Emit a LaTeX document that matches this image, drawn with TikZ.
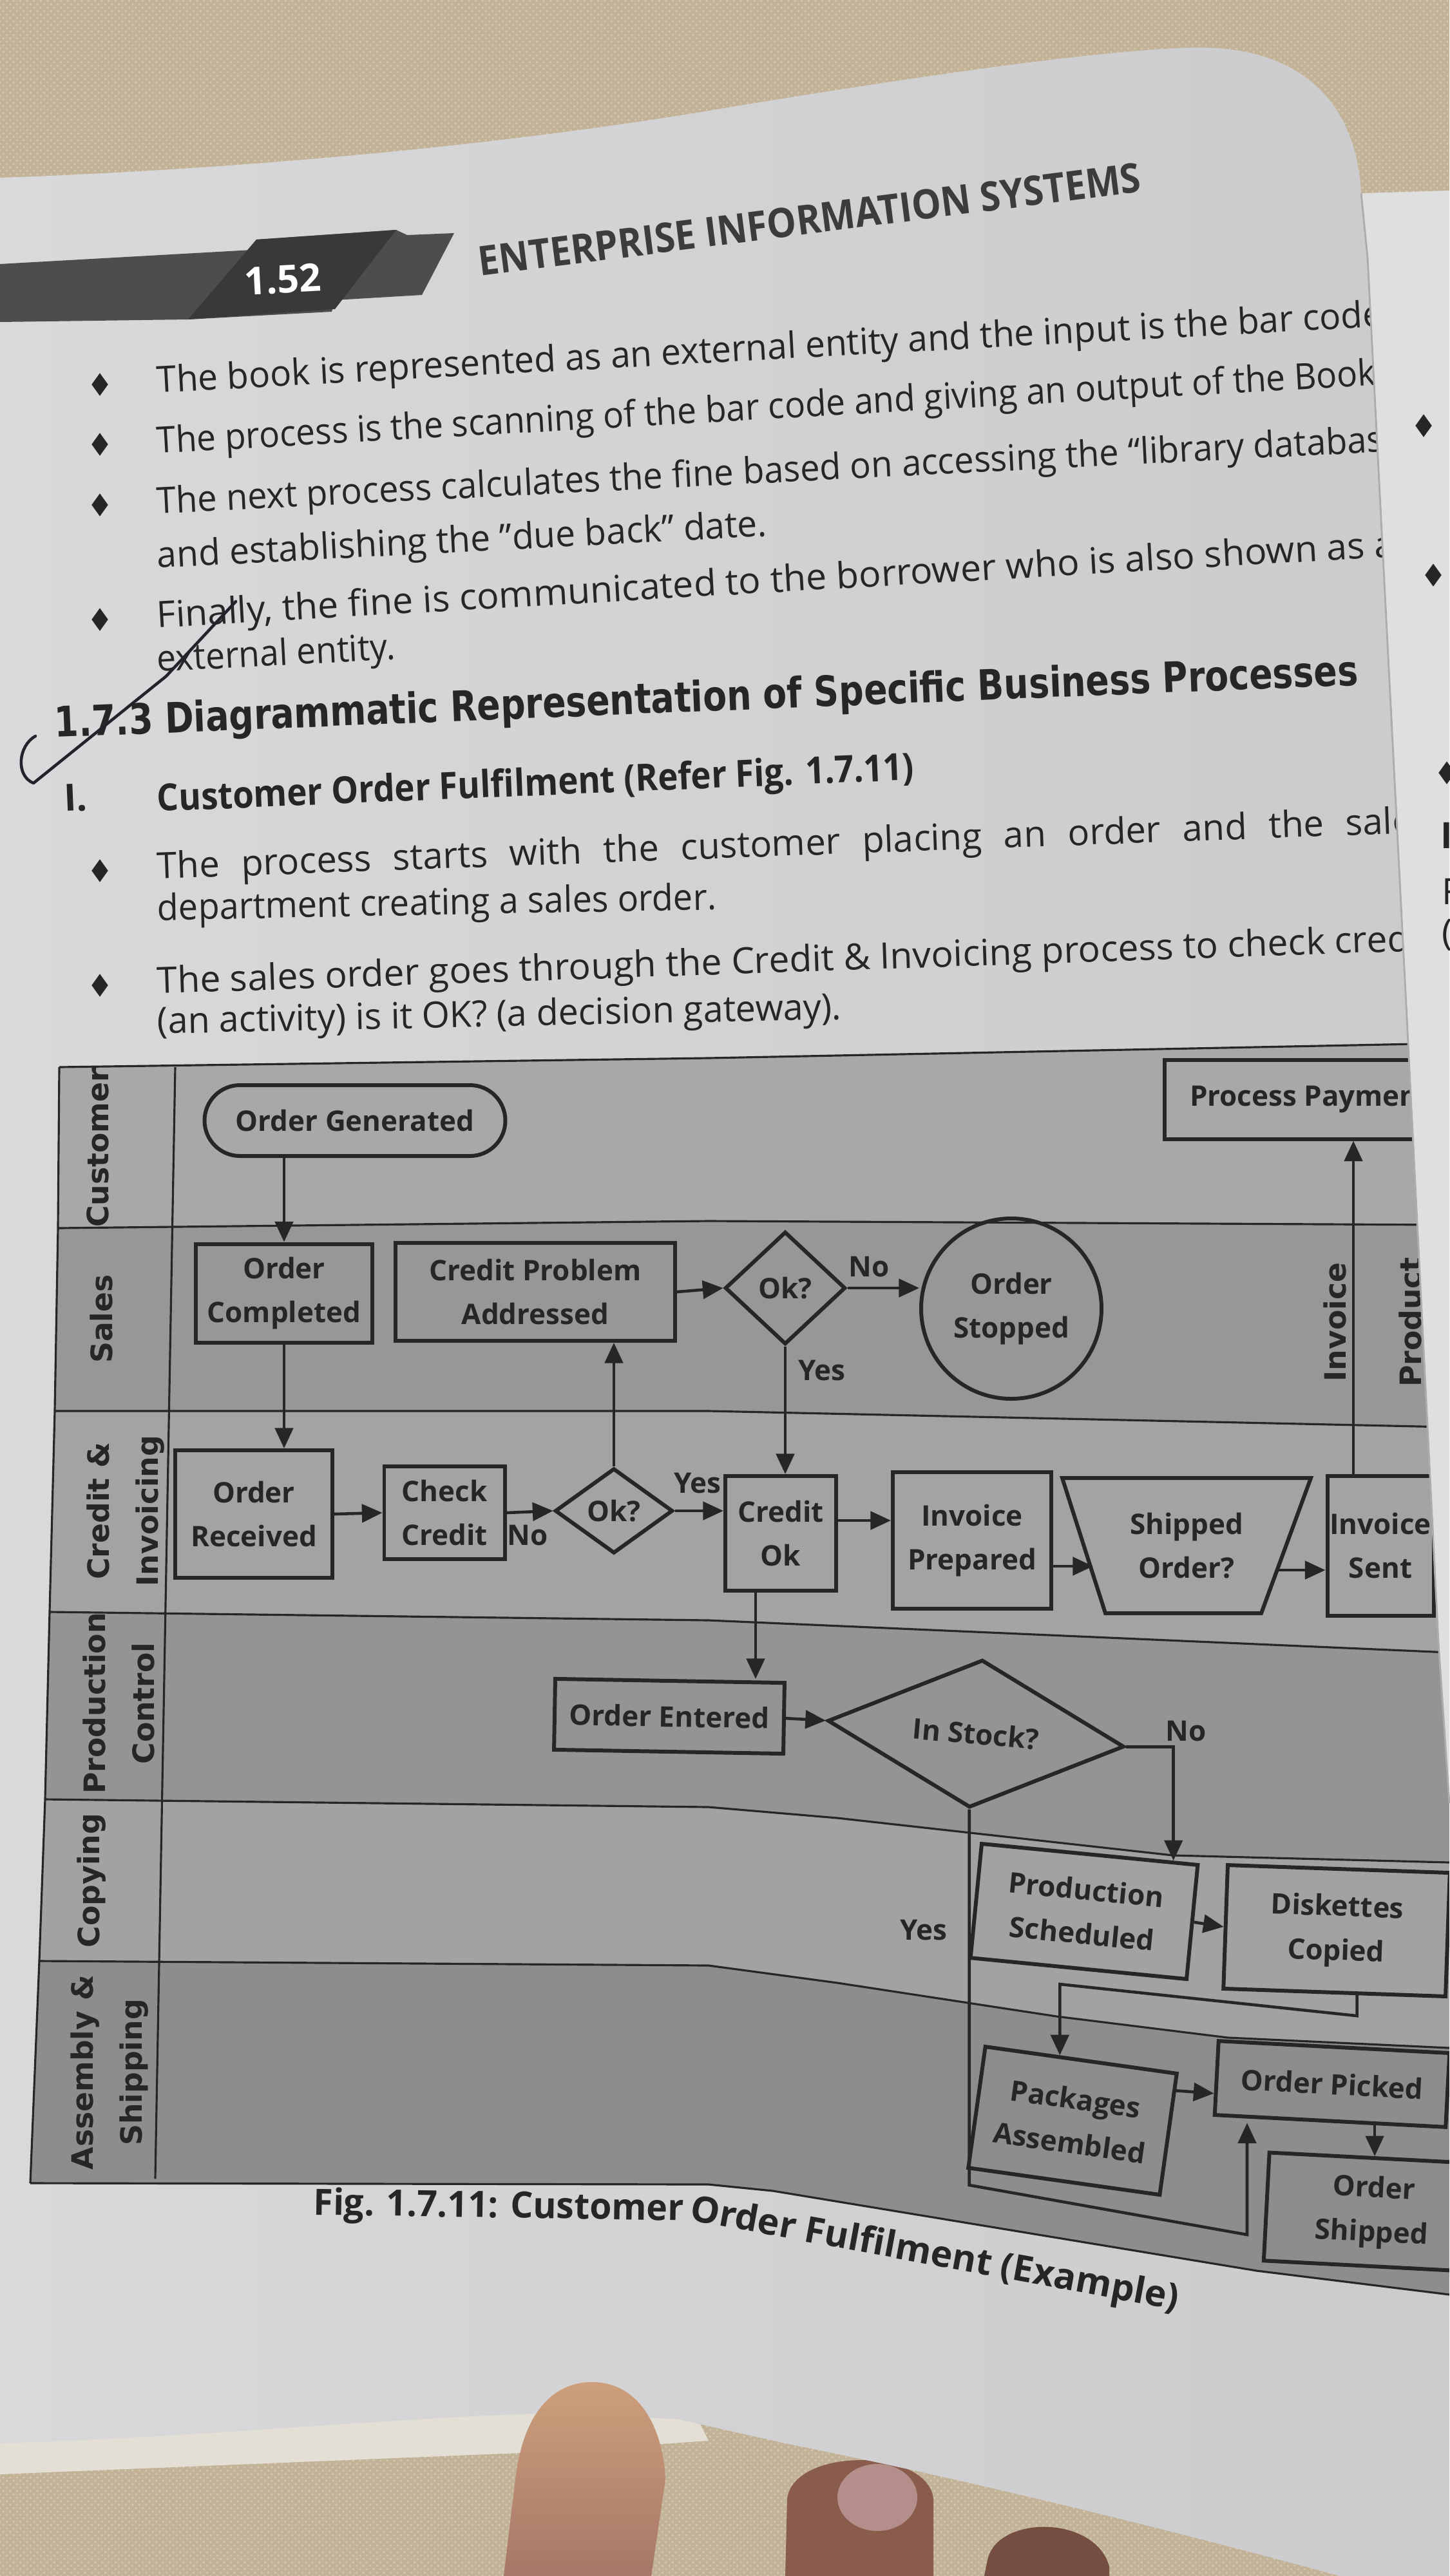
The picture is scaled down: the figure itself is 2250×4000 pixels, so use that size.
\documentclass[tikz,border=0pt]{standalone}
\usepackage{fontspec}
\setmainfont{Open Sans}
\newfontfamily\dvs{DejaVu Sans}
\usepackage{graphicx}
\usetikzlibrary{shapes.geometric,arrows.meta,calc,patterns}
\newlength\pxu \setlength\pxu{0.01cm}
\newbox\jbox
\newcommand\jl[2]{\setbox\jbox=\hbox{#2}\hbox to #1\wd\jbox{\unhcopy\jbox}}
\definecolor{fabric}{HTML}{C2B297}
\definecolor{fabdot}{HTML}{D5C9B1}
\definecolor{pageA}{HTML}{D9D9DB}
\definecolor{pageB}{HTML}{CBCBCE}
\definecolor{rpage}{HTML}{DFDFE0}
\definecolor{strip}{HTML}{E4DFD5}
\definecolor{ink}{HTML}{262626}
\definecolor{laneCust}{HTML}{A8A8A9}
\definecolor{laneSales}{HTML}{979798}
\definecolor{laneCred}{HTML}{A3A3A4}
\definecolor{laneProd}{HTML}{949495}
\definecolor{laneCopy}{HTML}{A2A2A3}
\definecolor{laneAsm}{HTML}{8D8D8E}
\definecolor{band}{HTML}{4D4D4D}
\definecolor{bandtab}{HTML}{393939}
\definecolor{skinA}{HTML}{CFA07B}
\definecolor{skinB}{HTML}{A67767}
\definecolor{skinC}{HTML}{8A5C4C}
\definecolor{nail}{HTML}{B48E8A}
\definecolor{penc}{HTML}{23232E}
\newcommand\bodyf{\fontsize{16}{18}\selectfont}
\newcommand\dlab{\fontsize{12.5}{19.5}\selectfont\bfseries}
\newcommand\lanef{\dvs\bfseries\fontsize{13}{21.6}\selectfont}
\newcommand\pagepath{(0,276) .. controls (400,262) and (800,222) .. (1100,172) .. controls (1400,122) and (1700,78) .. (1850,74) .. controls (2010,70) and (2105,150) .. (2113,300) -- (2123,400) -- (2183,1561) -- (2233,2550) -- (2250,2800) -- (2250,4000) -- (2080,4000) .. controls (1750,3910) and (1450,3840) .. (1219,3794) -- (1050,3756) -- (832,3748) .. controls (600,3755) and (300,3785) .. (0,3794) -- cycle}
\newcommand\tl[6]{\node[anchor=base west, rotate=#4, inner sep=0pt, text=ink] (#1) at (#2,#3) {\resizebox{#5\pxu}{\height}{#6}};}
\begin{document}
\begin{tikzpicture}[x=0.01cm,y=-0.01cm,
  procbox/.style={draw=ink, line width=1.7pt, font=\dlab, text=ink, align=center, inner sep=0pt},
  arr/.style={draw=ink, line width=1.3pt, -{Triangle[length=9pt,width=8pt]}},
  lbl/.style={font=\dlab, text=ink, inner sep=0pt},
  lanelbl/.style={font=\lanef, text=ink, rotate=90, align=center, inner sep=0pt},
  laneline/.style={draw=ink, line width=0.9pt},
  bulletd/.style={diamond, fill=ink, minimum width=26\pxu, minimum height=36\pxu, inner sep=0pt},
  pen/.style={draw=penc, line width=1.3pt, line cap=round, line join=round}]
\useasboundingbox (0,0) rectangle (2250,4000);
% fabric background
\fill[fabric] (0,0) rectangle (2250,4000);
\fill[pattern=crosshatch dots, pattern color=fabdot] (0,0) rectangle (2250,4000);
% right page
\fill[rpage] (2112,300) -- (2250,296) -- (2250,2900) -- (2233,2550) -- (2183,1561) -- (2123,400) -- cycle;
\node[bulletd] (rb1) at (2210,661) {};
\node[bulletd] (rb2) at (2225,893) {};
\node[bulletd] (rb3) at (2246,1200) {};
\node[anchor=west, inner sep=0pt, text=ink, font=\bodyf\bfseries] (rt1) at (2236,1297) {I};
\node[anchor=west, inner sep=0pt, text=ink, font=\bodyf] (rt2) at (2238,1384) {F};
\node[anchor=west, inner sep=0pt, text=ink, font=\bodyf] (rt3) at (2238,1452) {(};
% lower page layer
\fill[strip] (0,3760) -- (830,3720) -- (1080,3750) -- (1100,3790) -- (830,3808) -- (0,3842) -- cycle;
% fingers under page
\fill[skinC] (1219,4000) -- (1222,3880) .. controls (1232,3800) and (1440,3800) .. (1449,3880) -- (1449,4000) -- cycle;
\fill[nail] (1362,3878) ellipse [x radius=62, y radius=52];
\fill[skinC!85!black] (1528,4000) -- (1533,3975) .. controls (1548,3905) and (1700,3905) .. (1722,3985) -- (1722,4000) -- cycle;
% left page
\shade[left color=pageA, right color=pageB] \pagepath;
\begin{scope}
\clip \pagepath;
% header band
\fill[band] (0,410) -- (392,388) -- (398,372) -- (615,357) -- (632,365) -- (705,362) -- (655,458) -- (520,466) -- (515,484) -- (292,496) -- (0,500) -- cycle;
\fill[bandtab] (398,372) -- (615,357) -- (520,480) -- (292,496) -- cycle;
\node[text=white, font=\fontsize{17}{17}\selectfont\bfseries, rotate=3, inner sep=0pt] (pgno) at (439,434) {1.52};
\node[anchor=base west, rotate=7.3, inner sep=0pt, text=ink!90!white] (title) at (745,429) {\resizebox{1036\pxu}{\height}{\fontsize{18}{18}\selectfont\bfseries ENTERPRISE INFORMATION SYSTEMS}};
% bullets
\node[bulletd] (b1) at (155,597) {};
\node[bulletd] (b2) at (155,690) {};
\node[bulletd] (b3) at (155,784) {};
\node[bulletd] (b4) at (155,962) {};
\node[bulletd] (b5) at (155,1352) {};
\node[bulletd] (b6) at (155,1530) {};
% body text
\tl{t1}{244}{610}{3.1}{1905}{\bodyf The book is represented as an external entity and the input is the bar code}
\tl{t2}{244}{704}{3.2}{1895}{\bodyf The process is the scanning of the bar code and giving an output of the Book}
\tl{t3}{244}{798}{2.9}{1955}{\bodyf The next process calculates the fine based on accessing the “library database”}
\tl{t4}{244}{882}{3.0}{948}{\bodyf and establishing the ”due back” date.}
\tl{t5}{244}{975}{3.3}{1960}{\bodyf Finally, the fine is communicated to the borrower who is also shown as an}
\tl{t6}{244}{1043}{3.0}{370}{\bodyf external entity.}
\tl{h1}{85}{1145}{2.3}{2025}{\dvs\bfseries\fontsize{18.5}{20}\selectfont 1.7.3 Diagrammatic Representation of Specific Business Processes}
\node[anchor=base west, rotate=2.4, inner sep=0pt, text=ink, font=\fontsize{16.5}{18}\selectfont\bfseries] (h2a) at (100,1260) {I.};
\tl{h2}{244}{1260}{2.4}{1176}{\bfseries\fontsize{16.5}{18}\selectfont Customer Order Fulfilment (Refer Fig. 1.7.11)}
\tl{t7}{244}{1365}{2.1}{1977}{\bodyf\jl{1.12}{The process starts with the customer placing an order and the sales}}
\tl{t8}{244}{1429}{1.1}{868}{\bodyf department creating a sales order.}
\tl{t9}{244}{1543}{1.95}{1980}{\bodyf The sales order goes through the Credit \& Invoicing process to check credit}
\tl{t10}{244}{1605}{1.2}{1062}{\bodyf (an activity) is it OK? (a decision gateway).}
% pen mark
\draw[pen] (55,1143) .. controls (28,1158) and (24,1205) .. (52,1216) -- (258,1050) -- (366,934);
% ---- swimlanes ----
\fill[laneCust] (92,1657) -- (1100,1643) -- (2250,1620) -- (2250,1902) -- (1100,1896) -- (90,1907) -- cycle;
\fill[laneSales] (90,1907) -- (1100,1896) -- (2250,1902) -- (2250,2216) -- (1100,2191) -- (85,2191) -- cycle;
\fill[laneCred] (85,2191) -- (1100,2191) -- (2250,2216) -- (2250,2566) -- (1100,2516) -- (77,2503) -- cycle;
\fill[laneProd] (77,2503) -- (1100,2516) -- (2250,2566) -- (2250,2892) -- (1821,2881) -- (1300,2823) -- (1100,2806) -- (70,2794) -- cycle;
\fill[laneCopy] (70,2794) -- (1100,2806) -- (1300,2823) -- (1821,2881) -- (2250,2892) -- (2250,3180) -- (1906,3164) -- (1640,3131) -- (1300,3079) -- (1100,3052) -- (61,3045) -- cycle;
\fill[laneAsm] (61,3045) -- (1100,3052) -- (1300,3079) -- (1640,3131) -- (1906,3164) -- (2250,3180) -- (2250,3563) -- (1951,3526) -- (1200,3402) -- (1100,3392) -- (47,3390) -- cycle;
\draw[laneline] (92,1657) -- (1100,1643) -- (2250,1620);
\draw[laneline] (90,1907) -- (1100,1896) -- (2250,1902);
\draw[laneline] (85,2191) -- (1100,2191) -- (2250,2216);
\draw[laneline] (77,2503) -- (1100,2516) -- (2250,2566);
\draw[laneline] (70,2794) -- (1100,2806) -- (1300,2823) -- (1821,2881) -- (2250,2892);
\draw[laneline] (61,3045) -- (1100,3052) -- (1300,3079) -- (1640,3131) -- (1906,3164) -- (2250,3180);
\draw[laneline] (47,3390) -- (1100,3392) -- (1200,3402) -- (1951,3526) -- (2250,3563);
\draw[laneline] (92,1657) -- (90,1907) -- (85,2191) -- (77,2503) -- (70,2794) -- (61,3045) -- (47,3390);
\draw[laneline] (272,1657) -- (241,3383);
% lane labels
\node[lanelbl] (lcust) at (152,1782) {Customer};
\node[lanelbl] (lsales) at (157,2048) {Sales};
\node[lanelbl] (lcred) at (195,2346) {Credit \&\\Invoicing};
\node[lanelbl] (lprodc) at (184,2645) {Production\\Control};
\node[lanelbl] (lcopy) at (142,2920) {Copying};
\node[lanelbl] (lasm) at (170,3218) {Assembly \&\\Shipping};
% ---- process nodes ----
\node[procbox, minimum width=467\pxu, minimum height=110\pxu, rounded corners=55\pxu] (gen) at (551,1740) {Order Generated};
\node[procbox, minimum width=274\pxu, minimum height=153\pxu] (ocomp) at (441,2008) {Order\\Completed};
\node[procbox, minimum width=434\pxu, minimum height=152\pxu] (cpa) at (831,2006) {Credit Problem\\Addressed};
\node[procbox, minimum width=244\pxu, minimum height=198\pxu] (orec) at (394,2351) {Order\\Received};
\node[procbox, minimum width=187\pxu, minimum height=144\pxu] (chk) at (690,2349) {Check\\Credit};
\node[procbox, diamond, minimum width=183\pxu, minimum height=132\pxu] (ok1) at (953,2346) {Ok?};
\node[procbox, minimum width=172\pxu, minimum height=178\pxu] (cok) at (1212,2381) {Credit\\Ok};
\node[procbox, diamond, minimum width=187\pxu, minimum height=175\pxu] (ok2) at (1219,2000) {Ok?};
\node[procbox, circle, minimum size=280\pxu] (stop) at (1570,2032) {Order\\Stopped};
\node[procbox, minimum width=452\pxu, minimum height=123\pxu] (pay) at (2034,1707) {Process Payment};
\node[procbox, minimum width=246\pxu, minimum height=212\pxu] (prep) at (1509,2392) {Invoice\\Prepared};
\coordinate (shTL) at (1649,2295);
\coordinate (shTR) at (2035,2295);
\coordinate (shBR) at (1958,2505);
\coordinate (shBL) at (1716,2505);
\draw[draw=ink, line width=1.7pt, line join=miter] (shTL) -- (shTR) -- (shBR) -- (shBL) -- cycle;
\node[lbl, align=center] (ship) at (1842,2400) {Shipped\\Order?};
\node[procbox, minimum width=165\pxu, minimum height=217\pxu] (invs) at (2143,2400) {Invoice\\Sent};
\node[procbox, minimum width=356\pxu, minimum height=110\pxu, rotate=-1] (oent) at (1039,2665) {Order Entered};
\node[procbox, diamond, minimum width=462\pxu, minimum height=166\pxu, rotate=-5] (stock) at (1515,2692) {In Stock?};
\node[procbox, minimum width=337\pxu, minimum height=178\pxu, rotate=-5.6] (prods) at (1683,2968) {Production\\Scheduled};
\node[procbox, minimum width=345\pxu, minimum height=192\pxu, rotate=-2] (disk) at (2075,2998) {Diskettes\\Copied};
\node[procbox, minimum width=300\pxu, minimum height=190\pxu, rotate=-8] (packs) at (1665,3293) {Packages\\Assembled};
\node[procbox, minimum width=359\pxu, minimum height=115\pxu, rotate=-3] (opick) at (2068,3236) {Order Picked};
\node[procbox, minimum width=330\pxu, minimum height=168\pxu, rotate=-3] (oship) at (2131,3435) {Order\\Shipped};
% ---- connectors ----
\draw[arr] (gen.south -| ocomp.north) -- (ocomp.north);
\draw[arr] (ocomp.south) -- (ocomp.south |- orec.north);
\draw[arr] (orec.east) -- (chk.west);
\draw[arr] (chk.east) -- (ok1.west);
\draw[arr] (ok1.north) -- (ok1.north |- cpa.south);
\draw[arr] (ok1.east) -- (ok1.east -| cok.west);
\draw[arr] (cpa.east) -- (ok2.west);
\draw[arr] (ok2.east) -- (stop.west |- ok2.east);
\draw[arr] (ok2.south) -- (ok2.south |- cok.north);
\draw[arr] ([yshift=20\pxu]cok.east) -- ([yshift=20\pxu]cok.east -| prep.west);
\coordinate (shin) at (1697,2432);
\draw[arr] (prep.east |- shin) -- (shin);
\coordinate (shout) at (1983,2438);
\draw[arr] (shout) -- (shout -| invs.west);
\draw[arr] ([xshift=-42\pxu]invs.north) -- ([xshift=-42\pxu]invs.north |- pay.south);
\draw[arr] ([xshift=-39\pxu]cok.south) -- ([xshift=-39\pxu]cok.south |- oent.north);
\draw[arr] (oent.east) -- (stock.west);
\coordinate (psin) at ($(prods.north east)!0.12!(prods.north west)$);
\draw[arr] (stock.east) -| (psin);
\coordinate (ya) at (1489,3393);
\coordinate (yb) at (1936,3470);
\draw[arr] (stock.south) -- (stock.south |- ya) -- (yb) -- (yb |- opick.south);
\draw[arr] (prods.east) -- (disk.west);
\coordinate (dkout) at ($(disk.south west)!0.6!(disk.south east)$);
\coordinate (pkin) at ($(packs.north west)!0.39!(packs.north east)$);
\draw[arr] (dkout) -- ++(0,32) -- (pkin |- 0,3081) -- (pkin);
\draw[arr] ($(packs.north east)!0.15!(packs.south east)$) -- ($(opick.north west)!0.7!(opick.south west)$);
\coordinate (opo) at ($(opick.south west)!0.69!(opick.south east)$);
\draw[arr] (opo) -- (opo |- oship.north);
% ---- connector labels ----
\node[lbl] (lno1) at (819,2384) {No};
\node[lbl] (lyes1) at (1083,2303) {Yes};
\node[lbl] (lno2) at (1349,1967) {No};
\node[lbl] (lyes2) at (1276,2128) {Yes};
\node[lbl] (lno3) at (1841,2688) {No};
\node[lbl] (lyes3) at (1434,2997) {Yes};
\node[lanelbl] (linv) at (2072,2053) {Invoice};
\node[lanelbl] (lprod) at (2189,2053) {Product};
% caption
\tl{cap1}{486}{3439}{-0.9}{575}{\bfseries\fontsize{16}{18}\selectfont Fig. 1.7.11: Customer}
\tl{cap2}{1069}{3447}{-10.5}{770}{\bfseries\fontsize{16}{18}\selectfont Order Fulfilment (Example)}
\end{scope}
% page edge shadow
\draw[gray!65, line width=0.8pt] (2113,300) -- (2123,400) -- (2183,1561) -- (2233,2550) -- (2250,2800);
% finger on top of the page
\shade[top color=skinA, bottom color=skinB] (782,4000) -- (800,3850) .. controls (815,3722) and (880,3692) .. (935,3700) .. controls (1000,3710) and (1030,3780) .. (1033,3850) -- (1011,4000) -- cycle;
\end{tikzpicture}
\end{document}
